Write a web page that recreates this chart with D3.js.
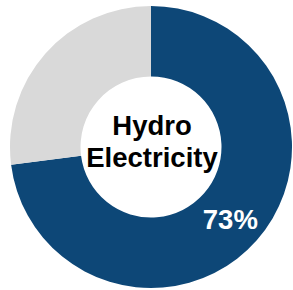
<!DOCTYPE html>
<html>
<head>
<meta charset="utf-8">
<script src="https://cdn.jsdelivr.net/npm/d3@7"></script>
<style>
html,body{margin:0;padding:0;background:#fff;}
svg{display:block;}
</style>
</head>
<body>
<svg id="chart" width="293" height="290"></svg>
<script>
const categories = ["Hydro Electricity", "Other"];
const values = [73, 27];
const colors = ["#0d4777", "#d9d9d9"];
const centerLines = ["Hydro", "Electricity"];
const labels = ["73%", ""];

const svg = d3.select("#chart");
const cx = 151, cy = 147, outerR = 141, innerR = 70.5;
const g = svg.append("g").attr("transform", `translate(${cx},${cy})`);

const pie = d3.pie().sort(null).value(d => d)(values);
const arc = d3.arc().innerRadius(innerR).outerRadius(outerR);

g.selectAll("path.slice").data(pie).enter().append("path")
  .attr("class", "slice")
  .attr("d", arc)
  .attr("fill", (d, i) => colors[i]);

g.selectAll("text.lbl").data(pie).enter().append("text")
  .attr("class", "lbl")
  .attr("transform", d => { const c = arc.centroid(d); return `translate(${c[0]},${c[1]})`; })
  .attr("dy", "0.44em")
  .attr("text-anchor", "middle")
  .attr("font-family", "Liberation Sans, Arial, sans-serif")
  .attr("font-weight", "bold")
  .attr("font-size", 27.5)
  .attr("fill", "#fff")
  .text((d, i) => labels[i]);

const ct = g.append("text")
  .attr("text-anchor", "middle")
  .attr("font-family", "Liberation Sans, Arial, sans-serif")
  .attr("font-weight", "bold")
  .attr("font-size", 27.5)
  .attr("fill", "#000");
ct.selectAll("tspan").data(centerLines).enter().append("tspan")
  .attr("x", 1)
  .attr("y", (d, i) => -12 + i * 32)
  .text(d => d);
</script>
</body>
</html>
